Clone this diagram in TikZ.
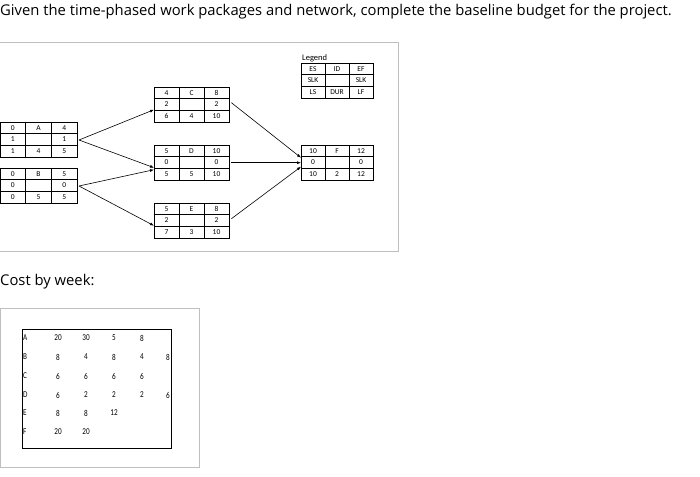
\documentclass[tikz,border=0pt]{standalone}
\usepackage{fontspec}
\setmainfont{Open Sans}
\newfontfamily\carfont{Carlito}
\usetikzlibrary{calc,arrows.meta}
\newcommand{\netbox}[5]{% name, x, y, w, entries list
  \node[draw,minimum width=#4pt,minimum height=35pt,inner sep=0,anchor=north west] (#1) at (#2,#3) {};
  \draw ($(#1.north west)+(0,11.67)$) -- ($(#1.north east)+(0,11.67)$);
  \draw ($(#1.north west)+(0,23.33)$) -- ($(#1.north east)+(0,23.33)$);
  \draw ($(#1.north west)+(#4/3,0)$) -- ($(#1.south west)+(#4/3,0)$);
  \draw ($(#1.north west)+(2*#4/3,0)$) -- ($(#1.south west)+(2*#4/3,0)$);
  \foreach \t [count=\i from 0] in {#5}{
    \pgfmathtruncatemacro\r{int(\i/3)}
    \pgfmathtruncatemacro\c{mod(\i,3)}
    \node[cell] at ($(#1.north west)+({(\c+0.5)*#4/3},{(\r+0.5)*11.67})$) {\t};
  }}
\begin{document}
\begin{tikzpicture}[x=1pt,y=-1pt,
  cell/.style={font=\carfont\fontsize{7.5}{8}\selectfont,inner sep=0},
  arr/.style={-{Latex[length=4pt,width=3pt]},line width=0.6pt},
  frame/.style={draw=black!25,line width=0.8pt},
  num/.style={font=\carfont\fontsize{9}{10}\selectfont,inner sep=0,xscale=0.8}]
\useasboundingbox (0,0) rectangle (700,476);
\node[anchor=west,font=\fontsize{14.8}{16}\selectfont,inner sep=0] (title) at (0,12) {Given the time-phased work packages and network, complete the baseline budget for the project.};
\draw[frame] (-1,42) -- (398,42) -- (398,251) -- (-1,251);
\netbox{A}{0}{122}{77}{0,A,4,1,,1,1,4,5}
\netbox{B}{0}{168}{77}{0,B,5,0,,0,0,5,5}
\netbox{C}{154}{87}{75}{4,C,8,2,,2,6,4,10}
\netbox{D}{154}{145}{75}{5,D,10,0,,0,5,5,10}
\netbox{E}{154}{203}{75}{5,E,8,2,,2,7,3,10}
\netbox{F}{301}{145}{72}{10,F,12,0,,0,10,2,12}
\netbox{L}{301}{63}{72}{ES,ID,EF,SLK,,SLK,LS,DUR,LF}
\node[cell,anchor=south west,font=\carfont\fontsize{8.5}{9}\selectfont] (leg) at (302,62) {Legend};
\coordinate (a1) at (79,140);
\draw[arr] (a1) -- ($(C.west)+(0,5)$);
\draw[arr] (a1) -- ($(D.west)+(0,5)$);
\coordinate (b1) at (79,186);
\draw[arr] (b1) -- ($(D.west)+(0,7)$);
\draw[arr] (b1) -- ($(E.west)+(0,5)$);
\draw[arr] ($(C.east)+(2,-2)$) -- ($(F.west)+(0,-5)$);
\draw[arr] ($(D.east)+(2,0)$) -- ($(F.west)+(0,0)$);
\draw[arr] ($(E.east)+(2,-2)$) -- ($(F.west)+(0,4)$);
\node[anchor=west,font=\fontsize{14.8}{16}\selectfont,inner sep=0] (cost) at (0,282) {Cost by week:};
\draw[frame] (0,308) rectangle (199,467);
\node[draw,line width=0.8pt,minimum width=149pt,minimum height=119pt,anchor=north west,inner sep=0] (T) at (22,329) {};
\foreach \l/\y in {A/338,B/357,C/376,D/395,E/413,F/432}
  \node[num,anchor=west] at (23,\y) {\l};
\foreach \v/\x/\y in {20/58/338,30/86/338,5/114/338,8/142/338,
  8/58/357,4/86/357,8/114/357,4/142/357,8/168/357,
  6/58/376,6/86/376,6/114/376,6/142/376,
  6/58/395,2/86/395,2/114/395,2/142/395,6/168/395,
  8/58/413,8/86/413,12/114/413,
  20/58/432,20/86/432}
  \node[num] at (\x,\y) {\v};
\end{tikzpicture}
\end{document}
